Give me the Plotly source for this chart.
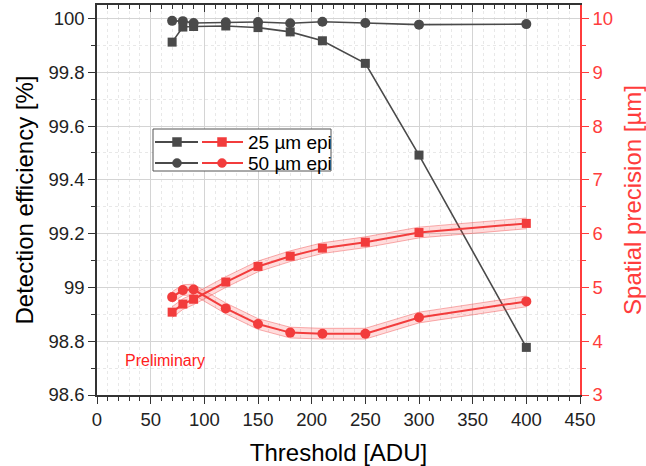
import plotly.graph_objects as go

threshold = [70, 80, 90, 120, 150, 180, 210, 250, 300, 400]
eff_25 = [99.912, 99.968, 99.970, 99.972, 99.966, 99.950, 99.917, 99.833, 99.492, 98.777]
eff_50 = [99.991, 99.990, 99.983, 99.986, 99.987, 99.982, 99.988, 99.983, 99.977, 99.979]
prec_25 = [4.54, 4.69, 4.78, 5.10, 5.39, 5.58, 5.73, 5.84, 6.02, 6.19]
prec_50 = [4.82, 4.95, 4.96, 4.61, 4.32, 4.16, 4.14, 4.14, 4.44, 4.74]
prec_err = [0.1] * 10

left_ticks = [98.6, 98.8, 99.0, 99.2, 99.4, 99.6, 99.8, 100.0]
left_labels = ["98.6", "98.8", "99", "99.2", "99.4", "99.6", "99.8", "100"]
right_ticks = [3, 4, 5, 6, 7, 8, 9, 10]
x_ticks = [0, 50, 100, 150, 200, 250, 300, 350, 400, 450]

GRAY = "#4a4a4a"
RED = "#f23c3c"
AXRED = "#ff3c3c"
FONT = "Liberation Sans, Arial, sans-serif"
TICKF = 18.5
TITLEF = 24

fig = go.Figure()

# bands
for vals in (prec_25, prec_50):
    up = [v + e for v, e in zip(vals, prec_err)]
    lo = [v - e for v, e in zip(vals, prec_err)]
    fig.add_trace(go.Scatter(x=threshold, y=up, yaxis="y2", mode="lines",
                             line=dict(color="rgba(240,80,80,0.45)", width=1),
                             showlegend=False, hoverinfo="skip"))
    fig.add_trace(go.Scatter(x=threshold, y=lo, yaxis="y2", mode="lines",
                             line=dict(color="rgba(240,80,80,0.45)", width=1),
                             fill="tonexty", fillcolor="rgba(255,60,60,0.18)",
                             showlegend=False, hoverinfo="skip"))

fig.add_trace(go.Scatter(x=threshold, y=prec_25, yaxis="y2", mode="lines+markers",
                         line=dict(color=RED, width=2),
                         marker=dict(symbol="square", size=9, color=RED),
                         showlegend=False))
fig.add_trace(go.Scatter(x=threshold, y=prec_50, yaxis="y2", mode="lines+markers",
                         line=dict(color=RED, width=2),
                         marker=dict(symbol="circle", size=10, color=RED),
                         showlegend=False))
fig.add_trace(go.Scatter(x=threshold, y=eff_25, mode="lines+markers",
                         line=dict(color=GRAY, width=1.6),
                         marker=dict(symbol="square", size=9, color=GRAY),
                         showlegend=False))
fig.add_trace(go.Scatter(x=threshold, y=eff_50, mode="lines+markers",
                         line=dict(color=GRAY, width=1.6),
                         marker=dict(symbol="circle", size=10, color=GRAY),
                         showlegend=False))
# invisible trace for top axis
fig.add_trace(go.Scatter(x=[0], y=[99], xaxis="x2", mode="markers",
                         marker=dict(opacity=0), showlegend=False, hoverinfo="skip"))

# plot area pixels: x 97..580, y 5..395
def px(xp):
    return (xp - 97) / 483.0

def py(yp):
    return (395 - yp) / 390.0

shapes = []
# legend box
shapes.append(dict(type="rect", xref="paper", yref="paper",
                   x0=px(153), x1=px(331), y0=py(129), y1=py(171),
                   line=dict(color="#555555", width=1), fillcolor="white", layer="above"))
legend_rows = [(142, "square", "25 µm epi"), (163, "circle", "50 µm epi")]
annotations = []
for yrow, sym, label in legend_rows:
    for (xa, xb, xm, col) in [(155, 198, 177, GRAY), (202, 243, 222, RED)]:
        shapes.append(dict(type="line", xref="paper", yref="paper",
                           x0=px(xa), x1=px(xb), y0=py(yrow), y1=py(yrow),
                           line=dict(color=col, width=2), layer="above"))
        shapes.append(dict(type="rect" if sym == "square" else "circle",
                           xref="paper", yref="paper",
                           xsizemode="pixel", ysizemode="pixel",
                           xanchor=px(xm), yanchor=py(yrow),
                           x0=-4.5, x1=4.5, y0=-4.5, y1=4.5,
                           fillcolor=col, line=dict(color=col, width=0.5), layer="above"))
    annotations.append(dict(x=px(246), y=py(yrow), xref="paper", yref="paper",
                            text=label, showarrow=False, xanchor="left", yanchor="middle",
                            font=dict(size=19, color="black", family=FONT)))

annotations.append(dict(x=px(123), y=py(360), xref="paper", yref="paper",
                        text="Preliminary", showarrow=False, xanchor="left", yanchor="middle",
                        font=dict(size=16, color="#ff2020", family=FONT)))

fig.update_layout(
    width=646, height=466,
    margin=dict(l=97, r=66, t=5, b=71),
    paper_bgcolor="white", plot_bgcolor="white",
    font=dict(family=FONT, size=TICKF, color="#222222"),
    shapes=shapes, annotations=annotations,
    xaxis=dict(range=[0, 450], tickvals=x_ticks, showline=True, linecolor="#333333",
               linewidth=1.5, ticks="outside", ticklen=7, tickcolor="#333333",
               showgrid=True, gridcolor="#d4d4d4", gridwidth=1, zeroline=False,
               automargin=False,
               tickfont=dict(size=TICKF, color="#222222"),
               minor=dict(dtick=10, ticks="outside", ticklen=4, tickcolor="#333333",
                          showgrid=True, gridcolor="#e8e8e8", griddash="3px,3px"),
               title=dict(text="Threshold [ADU]", font=dict(size=TITLEF, color="black"), standoff=15)),
    xaxis2=dict(range=[0, 450], overlaying="x", side="top", anchor="y", matches="x",
                showline=True, linecolor="#333333", linewidth=1.5, automargin=False,
                ticks="inside", ticklen=7, tickcolor="#333333", tickvals=x_ticks,
                showticklabels=False, showgrid=False, zeroline=False,
                minor=dict(dtick=10, ticks="inside", ticklen=4, tickcolor="#333333", showgrid=False)),
    yaxis=dict(range=[98.6, 100.05], tickvals=left_ticks, ticktext=left_labels,
               showline=True, linecolor="#333333", linewidth=1.5,
               ticks="outside", ticklen=7, tickcolor="#333333",
               showgrid=True, gridcolor="#d4d4d4", zeroline=False, automargin=False,
               tickfont=dict(size=TICKF, color="#222222"),
               minor=dict(dtick=0.1, ticks="outside", ticklen=4, tickcolor="#333333",
                          showgrid=True, gridcolor="#e8e8e8", griddash="3px,3px"),
               title=dict(text="Detection efficiency [%]", font=dict(size=TITLEF, color="black"), standoff=8)),
    yaxis2=dict(range=[3, 10.25], overlaying="y", side="right", anchor="x",
                tickvals=right_ticks, showline=True, linecolor=AXRED, linewidth=1.5,
                ticks="outside", ticklen=7, tickcolor=AXRED,
                showgrid=False, zeroline=False, automargin=False,
                tickfont=dict(size=TICKF, color=AXRED),
                minor=dict(dtick=0.5, ticks="outside", ticklen=4, tickcolor=AXRED, showgrid=False),
                title=dict(text="Spatial precision [µm]", font=dict(size=TITLEF, color=AXRED), standoff=12)),
)

fig.write_html("out.html")
